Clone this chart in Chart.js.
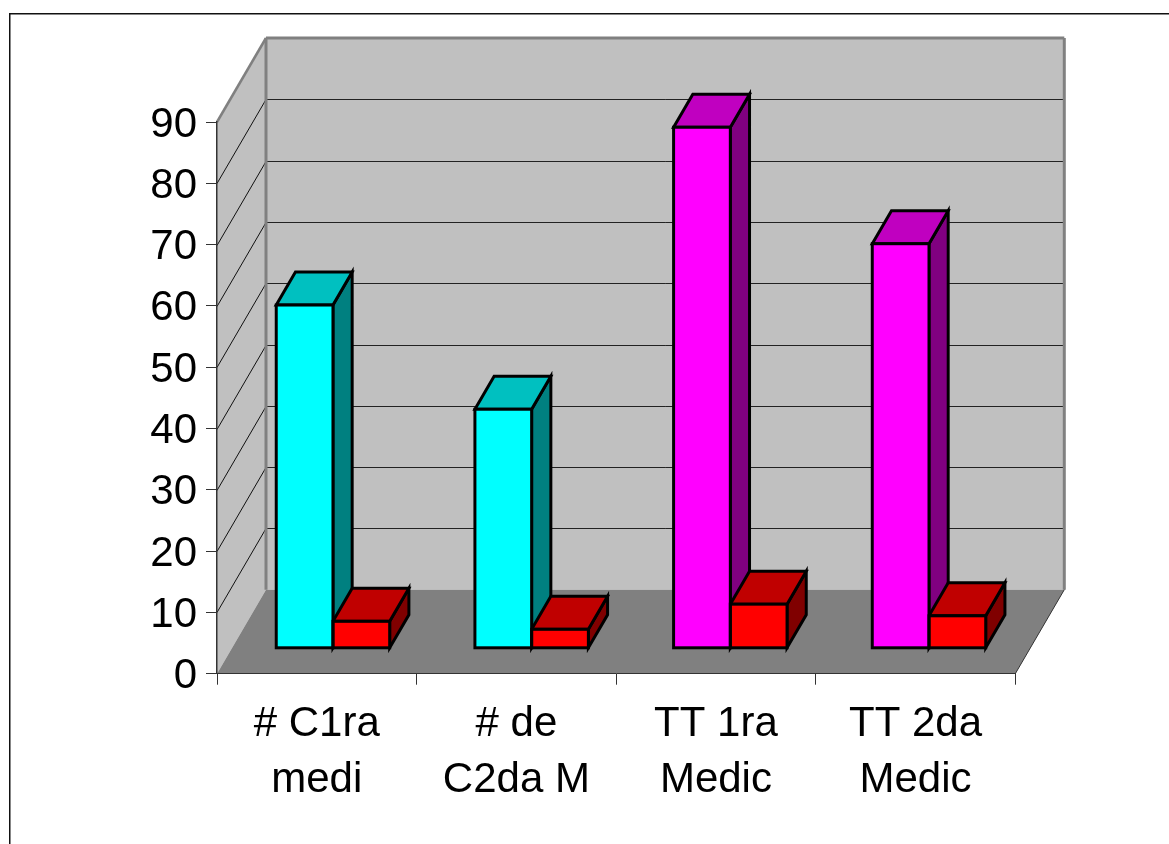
<!DOCTYPE html>
<html>
<head>
<meta charset="utf-8">
<style>html,body{margin:0;padding:0;background:#fff}canvas{display:block}</style>
<script src="https://cdn.jsdelivr.net/npm/chart.js@4"></script>
</head>
<body>
<canvas id="c" width="1169" height="844"></canvas>
<script>
const categories = [['# C1ra','medi'],['# de','C2da M'],['TT 1ra','Medic'],['TT 2da','Medic']];
const mainValues = [56, 39, 85, 66];
const redValues = [4.4, 3.1, 7.2, 5.3];
const mainFront = ['#00FFFF','#00FFFF','#FF00FF','#FF00FF'];
const mainTop = ['#00C0C0','#00C0C0','#C000C0','#C000C0'];
const mainSide = ['#008080','#008080','#800080','#800080'];
const redFront = ['#FF0000','#FF0000','#FF0000','#FF0000'];
const redTop = ['#C00000','#C00000','#C00000','#C00000'];
const redSide = ['#800000','#800000','#800000','#800000'];

const WALL_DX = 49, WALL_DY = 84;      // depth of the box
const BAR_DX = 17.6, BAR_DY = 25.4, BAR_SX = 0.9955;    // bars sit in the middle of the floor
const TOP_DX = 19.3, TOP_DY = 33;      // depth of each bar
const tops = [mainTop, redTop], sides = [mainSide, redSide];

function poly(ctx, pts, fill, stroke, lw) {
  ctx.beginPath();
  pts.forEach((p, i) => i ? ctx.lineTo(p[0], p[1]) : ctx.moveTo(p[0], p[1]));
  ctx.closePath();
  if (fill) { ctx.fillStyle = fill; ctx.fill(); }
  if (stroke) { ctx.strokeStyle = stroke; ctx.lineWidth = lw; ctx.stroke(); }
}
function line(ctx, x0, y0, x1, y1, color, lw) {
  ctx.beginPath(); ctx.moveTo(x0, y0); ctx.lineTo(x1, y1);
  ctx.strokeStyle = color; ctx.lineWidth = lw; ctx.stroke();
}
function toBarPlane(ctx) {
  ctx.translate(BAR_DX, -BAR_DY);
  ctx.scale(BAR_SX, 1);
}

const box3d = {
  id: 'box3d',
  beforeDraw(chart) {
    const ctx = chart.ctx, a = chart.chartArea, ys = chart.scales.y;
    const L = a.left, R = a.right, T = a.top, B = a.bottom;
    ctx.save();
    // page frame
    ctx.beginPath(); ctx.moveTo(9.75, 844); ctx.lineTo(9.75, 13.75); ctx.lineTo(1169, 13.75);
    ctx.strokeStyle = '#111'; ctx.lineWidth = 1.5; ctx.stroke();
    // walls and floor
    poly(ctx, [[L+WALL_DX,T-WALL_DY],[R+WALL_DX,T-WALL_DY],[R+WALL_DX,B-WALL_DY],[L+WALL_DX,B-WALL_DY]], '#C0C0C0');
    poly(ctx, [[L,T],[L+WALL_DX,T-WALL_DY],[L+WALL_DX,B-WALL_DY],[L,B]], '#C0C0C0');
    poly(ctx, [[L,B],[L+WALL_DX,B-WALL_DY],[R+WALL_DX,B-WALL_DY],[R,B]], '#808080');
    // grid lines
    ys.ticks.forEach(t => {
      if (t.value === 0 || t.value === ys.max) return;
      const y = Math.round(ys.getPixelForValue(t.value)) + 0.5;
      line(ctx, L, y, L+WALL_DX, y-WALL_DY, '#111', 1);
      line(ctx, L+WALL_DX, y-WALL_DY, R+WALL_DX, y-WALL_DY, '#222', 1);
    });
    // wall edges
    line(ctx, L, T, L+WALL_DX, T-WALL_DY, '#808080', 2.5);
    line(ctx, L+WALL_DX, T-WALL_DY, R+WALL_DX, T-WALL_DY, '#808080', 3);
    line(ctx, L+WALL_DX, T-WALL_DY, L+WALL_DX, B-WALL_DY, '#808080', 3);
    line(ctx, R+WALL_DX, T-WALL_DY, R+WALL_DX, B-WALL_DY, '#808080', 3);
    line(ctx, R, B, R+WALL_DX, B-WALL_DY, '#333', 1);
    ctx.restore();
  },
  beforeDatasetsDraw(chart) {
    const ctx = chart.ctx;
    ctx.save();
    toBarPlane(ctx);
    ctx.lineJoin = 'miter';
    [0, 1].forEach(d => {
      chart.getDatasetMeta(d).data.forEach((el, i) => {
        const x0 = el.x - el.width/2, x1 = el.x + el.width/2, y = el.y, b = el.base;
        poly(ctx, [[x1,y],[x1+TOP_DX,y-TOP_DY],[x1+TOP_DX,b-TOP_DY],[x1,b]], sides[d][i], '#000', 3);
        poly(ctx, [[x0,y],[x0+TOP_DX,y-TOP_DY],[x1+TOP_DX,y-TOP_DY],[x1,y]], tops[d][i], '#000', 3);
      });
    });
    ctx.restore();
  },
  beforeDatasetDraw(chart) {
    chart.ctx.save();
    toBarPlane(chart.ctx);
  },
  afterDatasetDraw(chart) {
    chart.ctx.restore();
  },
  afterDatasetsDraw(chart) {
    const ctx = chart.ctx;
    ctx.save();
    toBarPlane(ctx);
    ctx.strokeStyle = '#000'; ctx.lineWidth = 3;
    [0, 1].forEach(d => {
      chart.getDatasetMeta(d).data.forEach(el => {
        ctx.strokeRect(el.x - el.width/2, el.y, el.width, el.base - el.y);
      });
    });
    ctx.restore();
  }
};

new Chart(document.getElementById('c'), {
  type: 'bar',
  data: {
    labels: categories,
    datasets: [
      { data: mainValues, backgroundColor: mainFront, borderWidth: 0, categoryPercentage: 0.571, barPercentage: 1, clip: false },
      { data: redValues, backgroundColor: redFront, borderWidth: 0, categoryPercentage: 0.571, barPercentage: 1, clip: false }
    ]
  },
  plugins: [box3d],
  options: {
    responsive: false,
    animation: false,
    events: [],
    layout: { padding: { left: 0, top: 122, right: 153.7, bottom: 0 } },
    plugins: { legend: { display: false }, title: { display: false }, tooltip: { enabled: false } },
    scales: {
      x: {
        afterFit(s) { s.height = 170.3; s.paddingLeft = 0; s.paddingRight = 0; },
        grid: { drawOnChartArea: false, tickLength: 11, color: '#333', lineWidth: 1 },
        border: { color: '#333', width: 1 },
        ticks: { color: '#000', padding: 12, maxRotation: 0, autoSkip: false,
                 font: { family: '"Liberation Sans", Arial, sans-serif', size: 42, lineHeight: 1.335 } }
      },
      y: {
        min: 0, max: 90,
        afterFit(s) { s.width = 217; s.paddingTop = 0; s.paddingBottom = 0; },
        grid: { drawOnChartArea: false, tickLength: 11, color: '#333', lineWidth: 1 },
        border: { color: '#333', width: 1.5 },
        ticks: { stepSize: 10, color: '#000', padding: 9, autoSkip: false,
                 callback: v => ['', String(v)],   // blank first line nudges the label onto its tick
                 font: { family: '"Liberation Sans", Arial, sans-serif', size: 42, lineHeight: 0.143 } }
      }
    }
  }
});
</script>
</body>
</html>
